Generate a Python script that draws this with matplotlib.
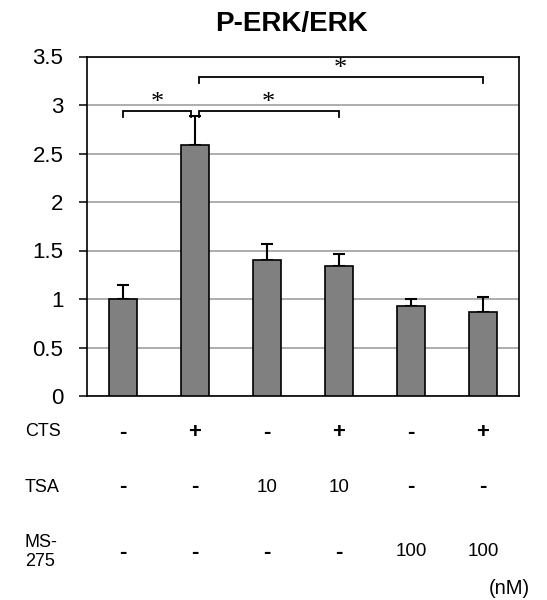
import matplotlib
matplotlib.use("Agg")
import matplotlib.pyplot as plt
from matplotlib.transforms import blended_transform_factory

# ---- data ----
values = [1.00, 2.59, 1.40, 1.34, 0.93, 0.864]
errors = [0.145, 0.30, 0.165, 0.12, 0.07, 0.156]
yticks = [0, 0.5, 1, 1.5, 2, 2.5, 3, 3.5]
ytick_labels = ["0", "0.5", "1", "1.5", "2", "2.5", "3", "3.5"]
row_names = ["CTS", "TSA", "MS-\n275"]
cts_row = ["-", "+", "-", "+", "-", "+"]
tsa_row = ["-", "-", "10", "10", "-", "-"]
ms_row = ["-", "-", "-", "-", "100", "100"]
# significance brackets: (x_start, x_end, height)
brackets = [(0.0, 0.95, 2.94), (1.05, 3.0, 2.94), (1.05, 5.0, 3.29)]
title = "P-ERK/ERK"
unit = "(nM)"

plt.rcParams['font.family'] = ['Liberation Sans', 'DejaVu Sans']

fig = plt.figure(figsize=(5.47, 6.0), dpi=100)
ax = fig.add_axes([87/547, 1-396/600, (519-87)/547, (396-56.5)/600])

x = list(range(len(values)))
ax.bar(x, values, width=0.4, color='#808080', edgecolor='black', linewidth=1.2, zorder=3)
ax.errorbar(x, values, yerr=[[0]*len(errors), errors], fmt='none', ecolor='black',
            elinewidth=1.5, capsize=4.5, capthick=1.5, zorder=2)

ax.set_xlim(-0.5, len(values) - 0.5)
ax.set_ylim(0, 3.5)
ax.set_yticks(yticks)
ax.set_yticklabels(ytick_labels, fontsize=16)
ax.set_xticks([])
ax.tick_params(axis='y', direction='out', length=6, width=1.1, pad=11)
ax.yaxis.grid(True, color='#a0a0a0', linewidth=1.2, zorder=0)
ax.set_axisbelow(True)
for s in ax.spines.values():
    s.set_linewidth(1.2)
    s.set_color('black')

# significance brackets
for (a, b, h) in brackets:
    drop = 0.065
    ax.plot([a, a, b, b], [h - drop, h, h, h - drop], color='black', lw=1.3,
            zorder=4, clip_on=False, solid_joinstyle='miter')
    ax.text((a + b) / 2, h - 0.035, "*", ha='center', va='bottom', fontsize=19,
            family='Liberation Serif', zorder=5)

# title
fig.text(291/547, 1-24/600, title, ha='center', va='center', fontsize=20, fontweight='bold')

# treatment table
trans = blended_transform_factory(ax.transData, fig.transFigure)
row_y = [1-432/600, 1-487/600, 1-552/600]
for name, yy in zip(row_names, row_y):
    fig.text(25/547, yy, name, ha='left', va='center', fontsize=13, linespacing=1.2)
for row, yy in zip([cts_row, tsa_row, ms_row], row_y):
    for xi, s in enumerate(row):
        if s in ("-", "+"):
            ax.text(xi, yy, s, transform=trans, ha='center', va='center',
                    fontsize=16, fontweight='bold')
        else:
            ax.text(xi, yy, s, transform=trans, ha='center', va='center', fontsize=13.5)
fig.text(530/547, 1-588/600, unit, ha='right', va='center', fontsize=14.5)

fig.savefig("out.png", dpi=100)
